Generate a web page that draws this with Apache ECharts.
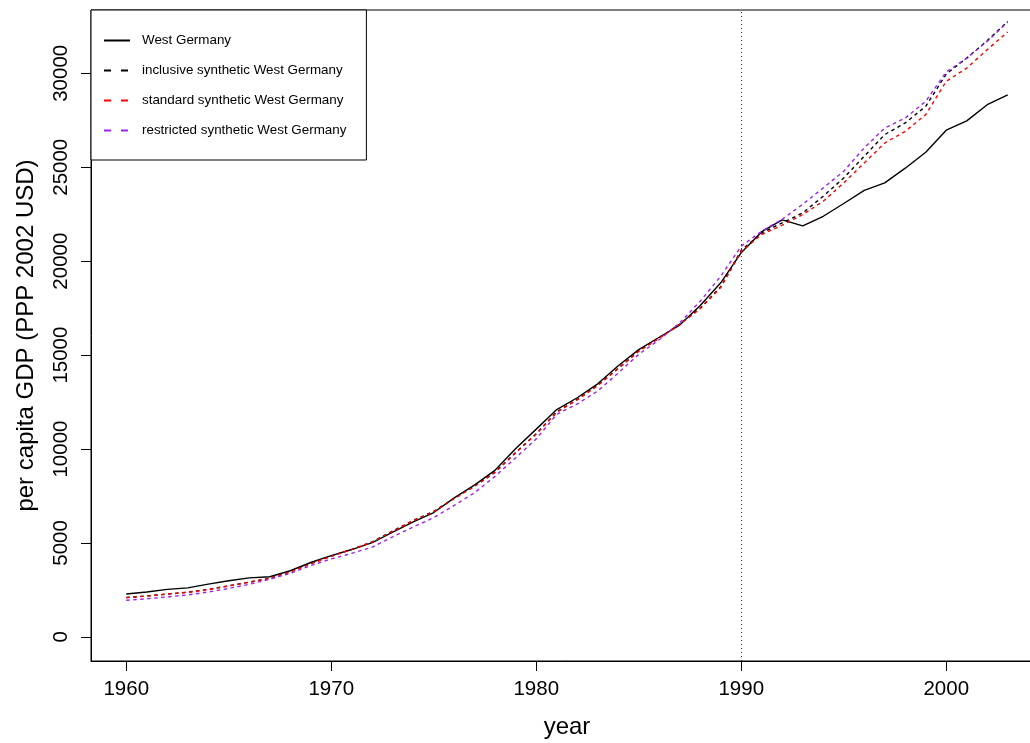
<!DOCTYPE html>
<html>
<head>
<meta charset="utf-8">
<script src="https://cdn.jsdelivr.net/npm/echarts@6/dist/echarts.min.js"></script>
<style>
html, body { margin: 0; padding: 0; background: #fff; }
#gdp { width: 1030px; height: 743px; }
</style>
</head>
<body>
<div id="gdp"></div>
<script>
var years = [1960, 1961, 1962, 1963, 1964, 1965, 1966, 1967, 1968, 1969,
	1970, 1971, 1972, 1973, 1974, 1975, 1976, 1977, 1978, 1979,
	1980, 1981, 1982, 1983, 1984, 1985, 1986, 1987, 1988, 1989,
	1990, 1991, 1992, 1993, 1994, 1995, 1996, 1997, 1998, 1999,
	2000, 2001, 2002, 2003];

// West Germany (actual)
var westGermany = [2284, 2388, 2527, 2610, 2806, 2990, 3140, 3200, 3520, 3960,
	4330, 4650, 5020, 5580, 6120, 6620, 7400, 8090, 8880, 10030,
	11060, 12100, 12730, 13470, 14430, 15290, 15950, 16600, 17640, 18850,
	20450, 21570, 22200, 21880, 22390, 23070, 23770, 24170, 24950, 25800,
	26970, 27470, 28330, 28850];

// inclusive synthetic
var inclusiveSynth = [2100, 2180, 2280, 2380, 2530, 2720, 2920, 3120, 3470, 3900,
	4300, 4660, 5060, 5640, 6200, 6680, 7380, 8040, 8780, 9820,
	10820, 11980, 12640, 13400, 14300, 15220, 15920, 16650, 17500, 18640,
	20580, 21505, 22040, 22570, 23460, 24430, 25585, 26740, 27360, 28245,
	29960, 30810, 31740, 32765];

// standard synthetic
var standardSynth = [2090, 2170, 2275, 2370, 2520, 2710, 2910, 3110, 3460, 3890,
	4290, 4650, 5050, 5620, 6180, 6660, 7360, 8020, 8760, 9800,
	10800, 11950, 12620, 13380, 14280, 15200, 15900, 16630, 17470, 18600,
	20520, 21420, 21915, 22480, 23190, 24165, 25230, 26290, 26915, 27800,
	29575, 30280, 31260, 32200];

// restricted synthetic
var restrictedSynth = [1950, 2030, 2130, 2234, 2390, 2580, 2800, 3070, 3380, 3800,
	4150, 4450, 4780, 5330, 5850, 6350, 7000, 7680, 8560, 9540,
	10540, 11850, 12400, 13090, 14050, 15040, 15820, 16720, 17870, 19200,
	20800, 21595, 22234, 23030, 23900, 24790, 26030, 27090, 27620, 28510,
	30070, 30810, 31700, 32730];

var xTicks = [1960, 1970, 1980, 1990, 2000];
var yTicks = [0, 5000, 10000, 15000, 20000, 25000, 30000];
var treatYear = 1990;

var names = ['West Germany', 'inclusive synthetic West Germany',
	'standard synthetic West Germany', 'restricted synthetic West Germany'];

function pairs(vals) {
	return years.map(function(y, i) { return [y, vals[i]]; });
}

var font = "'Liberation Sans', Arial, Helvetica, sans-serif";

var dom = document.getElementById("gdp");
var myChart = echarts.init(dom, null, {renderer: 'canvas'});
var option = null;

option = {
	animation: false,
	backgroundColor: '#fff',
	textStyle: { fontFamily: font, color: '#000' },
	grid: {
		left: 91,
		top: 10,
		width: 952,
		height: 651,
		show: true,
		borderColor: '#000',
		borderWidth: 1,
		outerBoundsMode: 'none'
	},
	legend: {
		orient: 'vertical',
		left: 91,
		top: 10,
		padding: [24, 20, 23, 12],
		itemWidth: 26,
		itemHeight: 14,
		itemGap: 17,
		backgroundColor: '#fff',
		borderColor: '#000',
		borderWidth: 1,
		borderRadius: 0,
		selectedMode: false,
		itemStyle: { opacity: 0 },
		textStyle: {
			fontFamily: font,
			fontSize: 13.4,
			color: '#000',
			padding: [0, 0, 0, 7]
		},
		data: [
			{ name: names[0], lineStyle: { type: 'solid', width: 2 } },
			{ name: names[1], lineStyle: { type: [7, 10], width: 2 } },
			{ name: names[2], lineStyle: { type: [7, 10], width: 2 } },
			{ name: names[3], lineStyle: { type: [7, 10], width: 2 } }
		]
	},
	xAxis: {
		type: 'value',
		min: 1958.28,
		max: 2004.72,
		name: 'year',
		nameLocation: 'middle',
		nameGap: 54,
		nameTextStyle: { fontFamily: font, fontSize: 24, color: '#000' },
		axisLine: { show: true, onZero: false, lineStyle: { color: '#000', width: 1 } },
		axisTick: {
			show: true,
			length: 10,
			customValues: xTicks,
			lineStyle: { color: '#000', width: 1 }
		},
		axisLabel: {
			show: true,
			customValues: xTicks,
			formatter: function(v) { return String(v); },
			fontFamily: font,
			fontSize: 20.5,
			color: '#000',
			margin: 18
		},
		splitLine: { show: false }
	},
	yAxis: {
		type: 'value',
		min: -1283,
		max: 33370,
		name: 'per capita GDP (PPP 2002 USD)',
		nameLocation: 'middle',
		nameGap: 53,
		nameTextStyle: { fontFamily: font, fontSize: 24, color: '#000' },
		axisLine: { show: true, onZero: false, lineStyle: { color: '#000', width: 1 } },
		axisTick: {
			show: true,
			length: 10,
			customValues: yTicks,
			lineStyle: { color: '#000', width: 1 }
		},
		axisLabel: {
			show: true,
			rotate: 90,
			customValues: yTicks,
			formatter: function(v) { return String(v); },
			fontFamily: font,
			fontSize: 20.5,
			color: '#000',
			margin: 19
		},
		splitLine: { show: false }
	},
	series: [{
		name: names[0],
		type: 'line',
		data: pairs(westGermany),
		symbol: 'none',
		color: '#000',
		lineStyle: { width: 1.4, color: '#000', type: 'solid' },
		markLine: {
			silent: true,
			symbol: ['none', 'none'],
			label: { show: false },
			lineStyle: { color: '#333', width: 1, type: [1, 3] },
			data: [{ xAxis: treatYear }]
		}
	}, {
		name: names[1],
		type: 'line',
		data: pairs(inclusiveSynth),
		symbol: 'none',
		color: '#000',
		lineStyle: { width: 1.4, color: '#000', type: [3.5, 3.5] }
	}, {
		name: names[2],
		type: 'line',
		data: pairs(standardSynth),
		symbol: 'none',
		color: '#ff0000',
		lineStyle: { width: 1.4, color: '#ff0000', type: [3.5, 3.5] }
	}, {
		name: names[3],
		type: 'line',
		data: pairs(restrictedSynth),
		symbol: 'none',
		color: '#a020f0',
		lineStyle: { width: 1.4, color: '#a020f0', type: [3.5, 3.5] }
	}]
};

if(option && typeof option === "object") {
	myChart.setOption(option, true);
}
</script>
</body>
</html>
